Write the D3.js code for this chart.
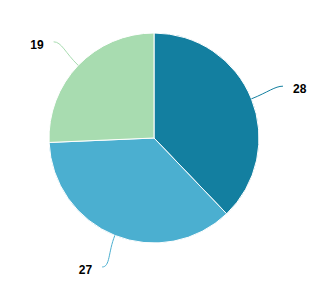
<!DOCTYPE html>
<html>
<head>
<meta charset="utf-8">
<script src="https://cdn.jsdelivr.net/npm/d3@7/dist/d3.min.js"></script>
<style>
  body { margin: 0; background: #fff; }
  text { font-family: "Liberation Sans", Arial, sans-serif; font-weight: bold; font-size: 12px; fill: #000; }
</style>
</head>
<body>
<svg id="chart" width="320" height="288"></svg>
<script>
(function() {
  const labels = ['28', '27', '19'];
  const values = [28, 27, 19];
  const colors = ['#137fa0', '#4bafd0', '#a8dcb0'];

  const cx = 154, cy = 138, radius = 105;

  const svg = d3.select('#chart');
  const g = svg.append('g').attr('transform', `translate(${cx},${cy})`);

  const pie = d3.pie().sort(null).value(d => d)(values);
  const arc = d3.arc().innerRadius(0).outerRadius(radius);

  g.selectAll('path.slice')
    .data(pie)
    .enter()
    .append('path')
    .attr('class', 'slice')
    .attr('d', arc)
    .attr('fill', (d, i) => colors[i])
    .attr('stroke', '#fff')
    .attr('stroke-width', 1);

  const pt = (a, r) => [Math.sin(a) * r, -Math.cos(a) * r];

  pie.forEach((d, i) => {
    const mid = (d.startAngle + d.endAngle) / 2;
    const p0 = pt(mid, radius);
    const p1 = pt(mid, radius + 18);
    const end = pt(mid, radius + 34);
    const side = end[0] > 0 ? 1 : -1;
    const c2 = [end[0] - side * 8, end[1]];

    g.append('path')
      .attr('d', `M${p0}C${p1} ${c2} ${end}`)
      .attr('fill', 'none')
      .attr('stroke', colors[i])
      .attr('stroke-width', 1);

    g.append('text')
      .attr('x', end[0] + side * 10)
      .attr('y', end[1] + 3)
      .attr('dy', '0.35em')
      .attr('text-anchor', side > 0 ? 'start' : 'end')
      .text(labels[i]);
  });
})();
</script>
</body>
</html>
